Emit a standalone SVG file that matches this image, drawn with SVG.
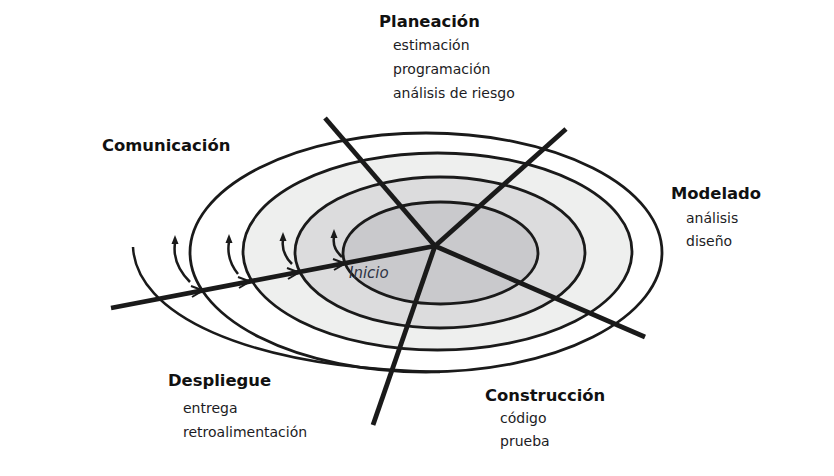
<svg xmlns="http://www.w3.org/2000/svg" width="834" height="476" viewBox="0 0 834 476">
<style>
.ring{stroke:#1a1a1a;stroke-width:2.8}
.ray{stroke:#1a1a1a;stroke-width:4.8;fill:none}
.arc{stroke:#1a1a1a;stroke-width:2.5;fill:none}
.barb{stroke:#1a1a1a;stroke-width:2;fill:none}
.head{fill:#1a1a1a}
.h{font-family:"DejaVu Sans",sans-serif;font-weight:bold;font-size:16.4px;fill:#111}
.t{font-family:"DejaVu Sans",sans-serif;font-size:14px;fill:#1c1c24}
.i{font-family:"DejaVu Sans",sans-serif;font-style:italic;font-size:15px;fill:#2e3444}
</style>
<rect width="834" height="476" fill="#ffffff"/>
<g id="rings">
<ellipse class="ring" cx="426" cy="252.5" rx="236" ry="119.5" fill="#ffffff"/>
<ellipse class="ring" cx="437.5" cy="251.5" rx="194.5" ry="98.5" fill="#eeefee"/>
<ellipse class="ring" cx="440" cy="252.5" rx="145" ry="75.5" fill="#dcdcdd"/>
<ellipse class="ring" cx="440.5" cy="253" rx="97.5" ry="51" fill="#c9c9cc"/>
<path class="arc" d="M133,247 C136,312 240,368 440,372"/>
</g>
<g id="connectors">
<line class="ray" x1="435" y1="246" x2="325" y2="118"/>
<line class="ray" x1="435" y1="246" x2="566" y2="129"/>
<line class="ray" x1="435" y1="246" x2="645" y2="337"/>
<line class="ray" x1="435" y1="246" x2="373" y2="425"/>
<line class="ray" x1="435" y1="246" x2="111" y2="308"/>
<path class="barb" d="M191,286 L203,290.5 L192,297"/>
<path class="barb" d="M238,277 L250,281.5 L239,288"/>
<path class="barb" d="M287,268 L299,272.5 L288,279"/>
<path class="barb" d="M333,259 L345,263.5 L334,270"/>
<path class="arc" d="M190,282 Q172,264 175,243"/>
<path class="arc" d="M238,274 Q226,259 229,242"/>
<path class="arc" d="M292,264 Q281,253 283,240"/>
<path class="arc" d="M342,257 Q332,248 334,237"/>
<path class="head" d="M175,235 L171.5,244 L178.5,244 Z"/>
<path class="head" d="M229,234 L225.5,243 L232.5,243 Z"/>
<path class="head" d="M283,232 L279.5,241 L286.5,241 Z"/>
<path class="head" d="M334,229 L330.5,238 L337.5,238 Z"/>
</g>
<g id="inicio"><text class="i" x="349" y="278">Inicio</text></g>
<g id="planeacion">
<text class="h" x="379" y="27">Planeación</text>
<text class="t" x="393" y="50">estimación</text>
<text class="t" x="393" y="74">programación</text>
<text class="t" x="393" y="98">análisis de riesgo</text>
</g>
<g id="comunicacion"><text class="h" x="102" y="151">Comunicación</text></g>
<g id="modelado">
<text class="h" x="671" y="199">Modelado</text>
<text class="t" x="686" y="223">análisis</text>
<text class="t" x="686" y="246">diseño</text>
</g>
<g id="despliegue">
<text class="h" x="168" y="386">Despliegue</text>
<text class="t" x="183" y="413">entrega</text>
<text class="t" x="183" y="437">retroalimentación</text>
</g>
<g id="construccion">
<text class="h" x="485" y="401">Construcción</text>
<text class="t" x="500" y="423">código</text>
<text class="t" x="500" y="446">prueba</text>
</g>
</svg>
